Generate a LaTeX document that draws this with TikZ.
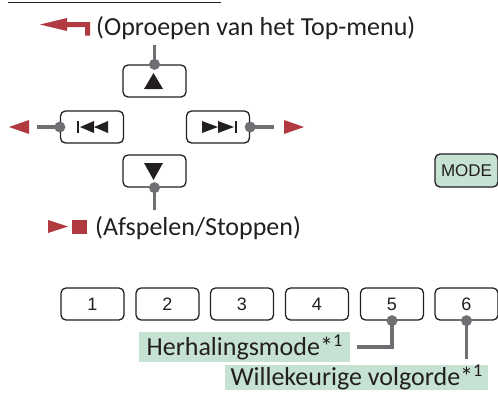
\documentclass[tikz,border=0pt]{standalone}
\usepackage{fontspec}
\setmainfont{Carlito}
\newfontfamily\keyfont{Liberation Sans}
\usetikzlibrary{positioning}
\definecolor{txt}{RGB}{35,31,32}
\definecolor{wire}{RGB}{110,111,115}
\definecolor{rood}{RGB}{176,58,64}
\definecolor{mint}{RGB}{198,226,211}
\tikzset{
 key/.style={draw=txt, line width=1.3pt, rounded corners=5pt, minimum width=63pt,
   minimum height=32pt, inner sep=0pt, text=txt, font=\keyfont\fontsize{18}{18}\selectfont},
 lead/.style={draw=wire, line width=3.5pt},
 lbl/.style={fill=mint, text=txt, inner sep=0pt, font=\fontsize{26}{26}\selectfont},
 say/.style={text=txt, inner sep=0pt, font=\fontsize{26}{26}\selectfont},
}
\begin{document}
\begin{tikzpicture}[x=1pt, y=-1pt]
 \useasboundingbox (0,0) rectangle (498,392);
 % cut-off heading
 \draw[txt, line width=1pt] (8,2) -- (221,2);

 % top menu
 \fill[rood] (40,24.5)--(67,18)--(67,22)--(90,22)--(90,35.5)--(85,35.5)--(85,27)--(67,27)--(67,31)--cycle;
 \node[say, anchor=base west] (topmenu) at (96,35) {(Oproepen van het Top-menu)};

 % cursor keys
 \node[key] (up) at (154.5,81) {};
 \node[key] (down) at (154.5,171) {};
 \node[key] (prev) at (92,127) {};
 \node[key] (next) at (218,127) {};
 \fill[txt] (144,89)--(163,89)--(153.5,73)--cycle;
 \fill[txt] (144,163)--(163,163)--(153.5,180)--cycle;
 \fill[txt] (77,121) rectangle (79,133);
 \fill[txt] (80,127)--(94,121)--(94,133)--cycle;
 \fill[txt] (94,127)--(108,121)--(108,133)--cycle;
 \fill[txt] (202,121)--(218,127)--(202,133)--cycle;
 \fill[txt] (218,121)--(234,127)--(218,133)--cycle;
 \fill[txt] (235,121) rectangle (237,133);

 \coordinate (upend) at (154.5,45);
 \coordinate (downend) at (154.5,210);
 \coordinate (prevend) at (37,127);
 \coordinate (nextend) at (274,127);
 \draw[lead] (up.north) -- (upend);
 \draw[lead] (down.south) -- (downend);
 \draw[lead] (prev.west) -- (prevend);
 \draw[lead] (next.east) -- (nextend);
 \foreach \k in {up.north, down.south, prev.west, next.east}
 {
     \fill[wire] (\k) circle (5.5pt);
 }
 \fill[rood] (9,127)--(29,120)--(29,134)--cycle;
 \fill[rood] (304,127)--(284,120)--(284,134)--cycle;

 % play / stop
 \fill[rood] (48,220)--(68,226.5)--(48,233)--cycle;
 \fill[rood] (72,220) rectangle (87,234);
 \node[say, anchor=base west] (play) at (95,235) {(Afspelen/Stoppen)};

 \node[key, fill=mint, minimum height=33pt, font=\keyfont\fontsize{17}{17}\selectfont] (mode) at (466.5,170.5) {MODE};

 % number keys
 \foreach \n/\x in {1/92.5,2/167.5,3/242,4/317,5/392,6/466.5}
 {
     \node[key] (b\n) at (\x,304) {\n};
 }
 \coordinate (h5) at (357,347);
 \coordinate (w6) at (466.5,359);
 \draw[lead] (b5.south) |- (h5);
 \draw[lead] (b6.south) -- (w6);
 \fill[wire] (b5.south) circle (5.5pt);
 \fill[wire] (b6.south) circle (5.5pt);
 \node[lbl, anchor=north west, minimum width=211pt, minimum height=30pt] (repeat) at (139,332) {Herhalingsmode*\textsuperscript{1}};
 \node[lbl, anchor=north west, minimum width=263pt, minimum height=25pt] (shuffle) at (225,365) {Willekeurige volgorde*\textsuperscript{1}};
\end{tikzpicture}
\end{document}
